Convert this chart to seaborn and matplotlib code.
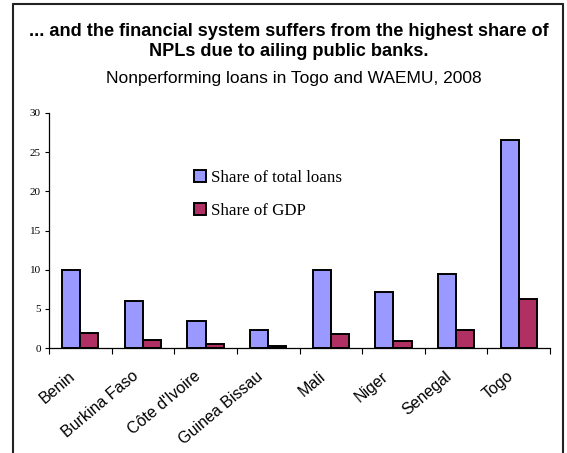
import matplotlib
matplotlib.use("Agg")
import matplotlib.pyplot as plt
from matplotlib.lines import Line2D
from matplotlib.transforms import ScaledTranslation
import seaborn as sns
import pandas as pd

countries = ["Benin", "Burkina Faso", "Côte d'Ivoire", "Guinea Bissau",
             "Mali", "Niger", "Senegal", "Togo"]
share_total_loans = [9.9, 6.0, 3.5, 2.3, 10.0, 7.2, 9.4, 26.6]
share_gdp = [1.95, 1.0, 0.5, 0.3, 1.85, 0.85, 2.35, 6.3]
series_names = ["Share of total loans", "Share of GDP"]
y_ticks = [0, 5, 10, 15, 20, 25, 30]

df = pd.DataFrame({
    "country": countries * 2,
    "value": share_total_loans + share_gdp,
    "series": [series_names[0]] * len(countries) + [series_names[1]] * len(countries),
})

sns.set_style("white")
plt.rcParams.update({"text.color": "black", "xtick.color": "black", "ytick.color": "black",
                     "axes.labelcolor": "black"})
W, H = 567, 453
fig = plt.figure(figsize=(W / 100, H / 100), dpi=100)
ax = fig.add_axes([49 / W, 1 - 348 / H, (550 - 49) / W, (348 - 113) / H])

palette = {series_names[0]: "#9999FF", series_names[1]: "#B03064"}
sns.barplot(data=df, x="country", y="value", hue="series", order=countries,
            hue_order=series_names, palette=palette, width=0.58, gap=0,
            edgecolor="black", linewidth=1.4, saturation=1, ax=ax)

ax.set_xlim(-0.5, len(countries) - 0.5)
ax.set_ylim(0, 30)
ax.set_yticks(y_ticks)
ax.set_yticklabels([str(t) for t in y_ticks], fontfamily="Liberation Serif", fontsize=8)
ax.tick_params(axis="y", direction="out", length=3, width=0.8, pad=3, left=True)

# category labels at the centres, tick marks on the category boundaries
ax.set_xticks(range(len(countries)))
ax.set_xticklabels(countries, rotation=40, ha="right", va="center", rotation_mode="anchor",
                   fontfamily="Liberation Sans", fontsize=11.5)
ax.tick_params(axis="x", which="major", length=0, pad=19)
shift = ScaledTranslation(-7 / 100, 0, fig.dpi_scale_trans)
for lbl in ax.get_xticklabels():
    lbl.set_transform(lbl.get_transform() + shift)
ax.set_xticks([i - 0.5 for i in range(len(countries) + 1)], minor=True)
ax.tick_params(axis="x", which="minor", direction="out", length=4, width=0.8, bottom=True)

ax.set_xlabel("")
ax.set_ylabel("")
for side in ["top", "right"]:
    ax.spines[side].set_visible(False)
for side in ["left", "bottom"]:
    ax.spines[side].set_color("black")
    ax.spines[side].set_linewidth(0.9)

leg = ax.legend(loc="upper left", bbox_to_anchor=(194 / W, 1 - 170 / H),
                bbox_transform=fig.transFigure, frameon=False,
                prop={"family": "Liberation Serif", "size": 12.2},
                handlelength=0.7, handleheight=0.7, handletextpad=0.3,
                labelspacing=1.0, borderpad=0, borderaxespad=0)
for h in leg.legend_handles:
    h.set_edgecolor("black")
    h.set_linewidth(1.4)

fig.text(288.5 / W, 1 - 31 / H, "... and the financial system suffers from the highest share of",
         ha="center", va="center", fontfamily="Liberation Sans", fontweight="bold", fontsize=13.1)
fig.text(288.5 / W, 1 - 51 / H, "NPLs due to ailing public banks.",
         ha="center", va="center", fontfamily="Liberation Sans", fontweight="bold", fontsize=13.1)
fig.text(294 / W, 1 - 78 / H, "Nonperforming loans in Togo and WAEMU, 2008",
         ha="center", va="center", fontfamily="Liberation Sans", fontsize=12.5)

# frame around the panel, open at the bottom
xl, xr, yt = 12.5 / W, 562.5 / W, 1 - 4 / H
for xs, ys in [([xl, xl], [-0.1, yt]), ([xl, xr], [yt, yt]), ([xr, xr], [yt, -0.1])]:
    fig.add_artist(Line2D(xs, ys, transform=fig.transFigure, color="#222222", linewidth=1.5))

fig.savefig("out.png", dpi=100)
